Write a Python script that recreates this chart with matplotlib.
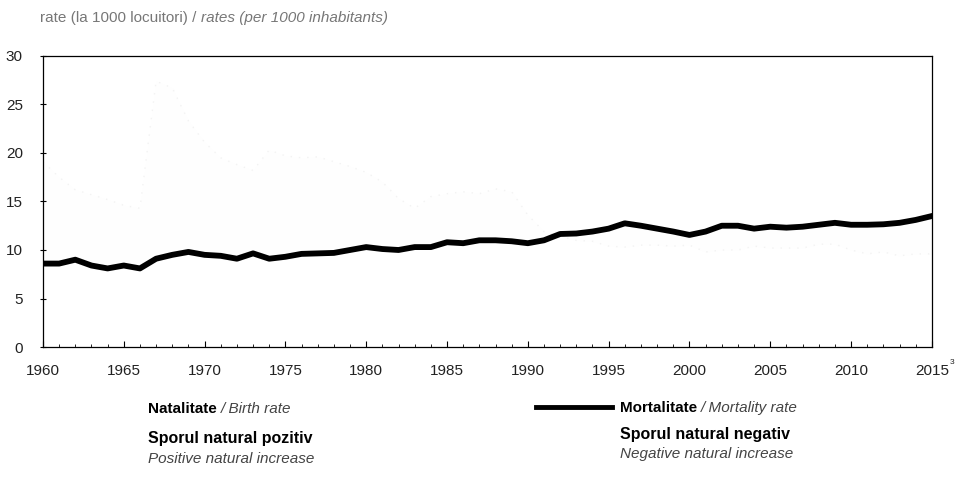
import numpy as np
import matplotlib.pyplot as plt

plt.rcParams['font.family'] = ['Liberation Sans', 'DejaVu Sans']

years = list(range(1960, 2016))

# mortality rate (per 1000 inhabitants)
mortality = [8.6, 8.6, 9.0, 8.4, 8.1, 8.4, 8.1, 9.1, 9.5, 9.8,
             9.5, 9.4, 9.1, 9.65, 9.1, 9.3, 9.6, 9.65, 9.7, 10.0,
             10.3, 10.1, 10.0, 10.3, 10.3, 10.8, 10.7, 11.0, 11.0, 10.9,
             10.7, 11.0, 11.65, 11.7, 11.9, 12.2, 12.75, 12.5, 12.2, 11.9,
             11.55, 11.9, 12.5, 12.5, 12.2, 12.4, 12.3, 12.4, 12.6, 12.8,
             12.6, 12.6, 12.65, 12.8, 13.1, 13.5]

# birth rate - almost washed out in the scan, only a few dots remain
birth = [19.1, 17.5, 16.2, 15.7, 15.2, 14.6, 14.3, 27.4, 26.7, 23.3,
         21.1, 19.5, 18.8, 18.2, 20.3, 19.7, 19.5, 19.6, 19.1, 18.6,
         18.0, 17.0, 15.3, 14.3, 15.5, 15.8, 16.0, 15.8, 16.3, 16.0,
         13.6, 11.9, 11.4, 11.0, 10.9, 10.4, 10.3, 10.5, 10.5, 10.4,
         10.5, 9.8, 10.0, 10.0, 10.4, 10.2, 10.2, 10.2, 10.6, 10.6,
         10.0, 9.6, 9.8, 9.4, 9.6, 9.6]

x_labels = ['1960', '1965', '1970', '1975', '1980', '1985', '1990',
            '1995', '2000', '2005', '2010', '2015']

fig = plt.figure(figsize=(9.61, 4.78), dpi=100)
ax = fig.add_axes([0.0447, 0.274, 0.925, 0.609])

yr = np.array(years)
b = np.array(birth)
d = np.array(mortality)

# washed out areas and birth line (barely visible in the reference)
ax.fill_between(yr, b, d, where=b >= d, interpolate=True, color='#fefefe', lw=0)
ax.fill_between(yr, b, d, where=b < d, interpolate=True, color='#fefefe', lw=0)
ax.plot(yr, b, color='#f3f3f3', lw=1.0, ls=(0, (1, 5)))

ax.plot(yr, d, color='black', lw=4.2, solid_joinstyle='round')

ax.set_xlim(1960, 2015)
ax.set_ylim(0, 30)
ax.set_xticks(range(1960, 2016, 5))
ax.set_xticklabels(x_labels)
ax.set_xticks(years, minor=True)
ax.set_yticks(range(0, 31, 5))

ax.tick_params(axis='x', which='major', direction='in', length=4, width=0.8,
               labelsize=11, labelcolor='#222222', pad=12)
ax.tick_params(axis='x', which='minor', direction='in', length=2, width=0.6)
ax.tick_params(axis='y', direction='inout', length=5, width=0.8,
               labelsize=11, labelcolor='#222222', pad=12)

for s in ax.spines.values():
    s.set_linewidth(0.9)

ax.annotate('3', xy=(1, 0), xycoords='axes fraction', xytext=(13, -12),
            textcoords='offset points', fontsize=6, color='#222222')


def two_part(x, y, first, second, size, first_kw, second_kw):
    # write "first" then "second" right after it on the same line
    t = fig.text(x, y, first, fontsize=size, va='center', **first_kw)
    fig.canvas.draw()
    x2 = t.get_window_extent().x1 / fig.bbox.width
    fig.text(x2, y, second, fontsize=size, va='center', style='italic', **second_kw)


two_part(0.042, 0.962, 'rate (la 1000 locuitori) / ', 'rates (per 1000 inhabitants)',
         11, {'color': '#777777'}, {'color': '#777777'})

# legend, laid out by hand like the original
two_part(0.154, 0.144, 'Natalitate ', '/ Birth rate', 11,
         {'weight': 'bold'}, {'color': '#444444'})
fig.text(0.154, 0.083, 'Sporul natural pozitiv', fontsize=11.5, weight='bold',
         va='center')
fig.text(0.154, 0.040, 'Positive natural increase', fontsize=11, style='italic',
         color='#444444', va='center')

fig.add_artist(plt.Line2D([0.558, 0.637], [0.148, 0.148], color='black', lw=3.5))
two_part(0.645, 0.146, 'Mortalitate ', '/ Mortality rate', 11,
         {'weight': 'bold'}, {'color': '#444444'})
fig.text(0.645, 0.092, 'Sporul natural negativ', fontsize=11.5, weight='bold',
         va='center')
fig.text(0.645, 0.050, 'Negative natural increase', fontsize=11, style='italic',
         color='#444444', va='center')

fig.savefig('out.png', dpi=100)
